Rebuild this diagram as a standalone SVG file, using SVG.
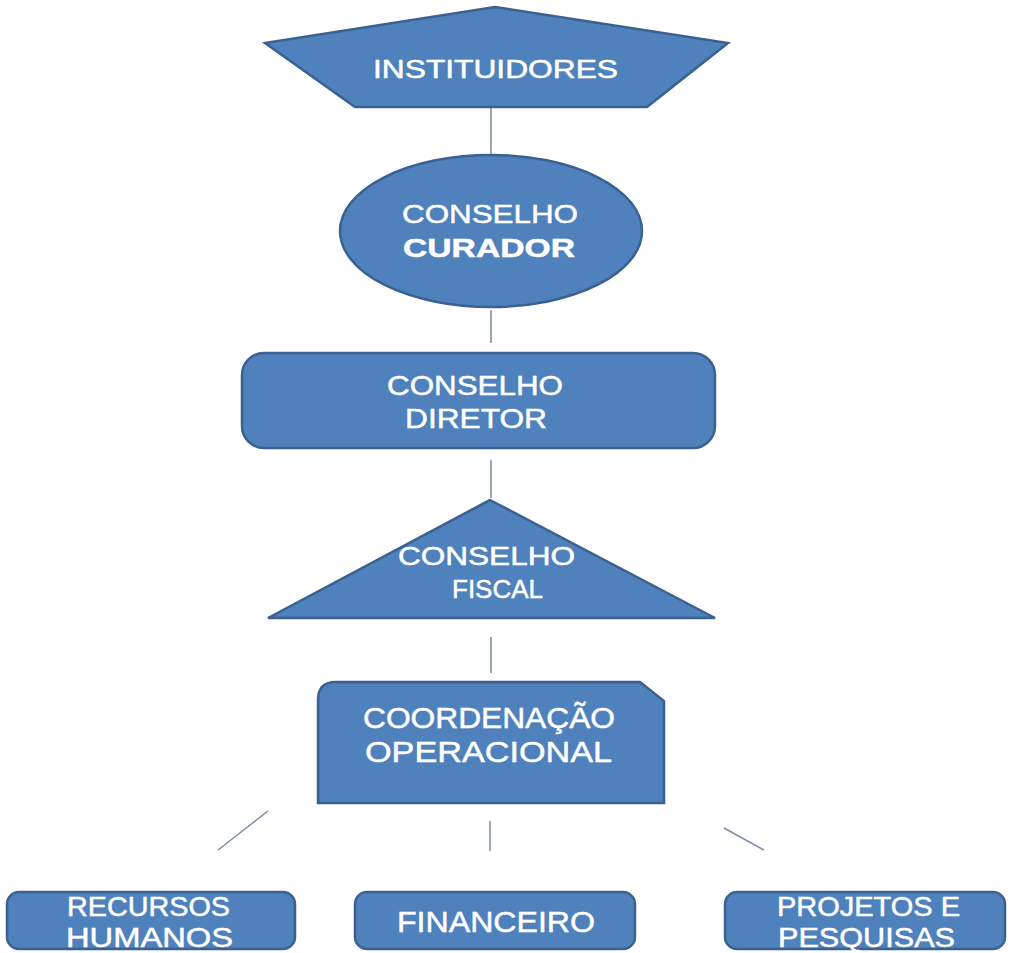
<svg xmlns="http://www.w3.org/2000/svg" width="1013" height="953" viewBox="0 0 1013 953">
<style>
.shape{fill:#4F81BD;stroke:#3A6190;stroke-width:2.5}
.lbl{font-family:"Liberation Sans",Arial,sans-serif;fill:#FFFFFF;stroke:#FFFFFF;stroke-width:0.5;text-anchor:start}
.conn{stroke:#7C8AA6;stroke-width:1.5;fill:none}
</style>
<rect width="1013" height="953" fill="#FFFFFF"/>
<g id="connectors">
<line class="conn" x1="491" y1="107" x2="491" y2="155"/>
<line class="conn" x1="491" y1="310" x2="491" y2="343"/>
<line class="conn" x1="491" y1="460" x2="491" y2="498"/>
<line class="conn" x1="491" y1="637" x2="491" y2="673"/>
<line class="conn" x1="268" y1="811" x2="218" y2="850"/>
<line class="conn" x1="490" y1="821" x2="490" y2="851"/>
<line class="conn" x1="724" y1="828" x2="764" y2="850"/>
</g>
<g id="instituidores">
<polygon class="shape" points="495,7 728,43 647,107 355,107 265,43"/>
<text class="lbl" x="373" y="78" font-size="25" textLength="245" lengthAdjust="spacingAndGlyphs">INSTITUIDORES</text>
</g>
<g id="conselho-curador">
<ellipse class="shape" cx="491" cy="231" rx="151" ry="76"/>
<text class="lbl" x="402" y="223" font-size="26" textLength="176" lengthAdjust="spacingAndGlyphs">CONSELHO</text>
<text class="lbl" x="403" y="257" font-size="26" font-weight="bold" textLength="172" lengthAdjust="spacingAndGlyphs">CURADOR</text>
</g>
<g id="conselho-diretor">
<rect class="shape" x="242" y="353" width="473" height="95" rx="22" ry="22"/>
<text class="lbl" x="387" y="395" font-size="28" textLength="176" lengthAdjust="spacingAndGlyphs">CONSELHO</text>
<text class="lbl" x="405" y="428" font-size="28" textLength="142" lengthAdjust="spacingAndGlyphs">DIRETOR</text>
</g>
<g id="conselho-fiscal">
<polygon class="shape" points="490,500 715,618 268,618"/>
<text class="lbl" x="398" y="565" font-size="26" textLength="177" lengthAdjust="spacingAndGlyphs">CONSELHO</text>
<text class="lbl" x="452" y="598" font-size="26" textLength="91" lengthAdjust="spacingAndGlyphs">FISCAL</text>
</g>
<g id="coordenacao-operacional">
<path class="shape" d="M336,682 L640,682 L664,701 L664,803 L318,803 L318,700 Q318,682 336,682 Z"/>
<text class="lbl" x="363" y="728" font-size="30" textLength="252" lengthAdjust="spacingAndGlyphs">COORDENAÇÃO</text>
<text class="lbl" x="365" y="762" font-size="30" textLength="247" lengthAdjust="spacingAndGlyphs">OPERACIONAL</text>
</g>
<g id="recursos-humanos">
<rect class="shape" x="7" y="892" width="288" height="57" rx="12" ry="12"/>
<text class="lbl" x="67" y="916" font-size="27.5" textLength="163" lengthAdjust="spacingAndGlyphs">RECURSOS</text>
<text class="lbl" x="66" y="947" font-size="27.5" textLength="167" lengthAdjust="spacingAndGlyphs">HUMANOS</text>
</g>
<g id="financeiro">
<rect class="shape" x="355" y="892" width="280" height="57" rx="12" ry="12"/>
<text class="lbl" x="397" y="932" font-size="30" textLength="198" lengthAdjust="spacingAndGlyphs">FINANCEIRO</text>
</g>
<g id="projetos-pesquisas">
<rect class="shape" x="725" y="892" width="280" height="57" rx="12" ry="12"/>
<text class="lbl" x="777" y="916" font-size="27.5" textLength="183" lengthAdjust="spacingAndGlyphs">PROJETOS E</text>
<text class="lbl" x="778" y="947" font-size="27.5" textLength="177" lengthAdjust="spacingAndGlyphs">PESQUISAS</text>
</g>
</svg>
